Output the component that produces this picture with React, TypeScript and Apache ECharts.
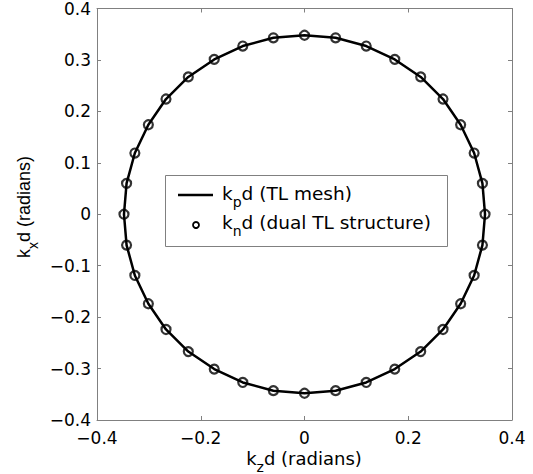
import React, { useEffect, useRef } from "react";
import * as echarts from "echarts";

// k_z d values of the dual TL structure points (radians)
const kzValues = [0.348, 0.343, 0.327, 0.301, 0.267, 0.224, 0.174, 0.119, 0.060, 0.000,
  -0.060, -0.119, -0.174, -0.224, -0.267, -0.301, -0.327, -0.343, -0.348, -0.343,
  -0.327, -0.301, -0.267, -0.224, -0.174, -0.119, -0.060, 0.000, 0.060, 0.119,
  0.174, 0.224, 0.267, 0.301, 0.327, 0.343];
// k_x d values (radians)
const kxValues = [0.000, 0.060, 0.119, 0.174, 0.224, 0.267, 0.301, 0.327, 0.343, 0.348,
  0.343, 0.327, 0.301, 0.267, 0.224, 0.174, 0.119, 0.060, 0.000, -0.060,
  -0.119, -0.174, -0.224, -0.267, -0.301, -0.327, -0.343, -0.348, -0.343, -0.327,
  -0.301, -0.267, -0.224, -0.174, -0.119, -0.060];

const xTicks = { min: -0.4, max: 0.4, interval: 0.2 };
const yTicks = { min: -0.4, max: 0.4, interval: 0.1 };

const FONT = "DejaVu Sans";
const FONT_V = "Liberation Sans";
const GRAY = "#808080";

const fmt = (v: number) => (Math.abs(v) < 1e-9 ? "0" : v.toFixed(1).replace("-", "\u2212"));

// main text with a lowered subscript, compact line box
const mkRich = (font: string, size: number, subSize: number) => ({
  a: { fontSize: size, fontFamily: font, color: "#000", lineHeight: 14 },
  s: { fontSize: subSize, fontFamily: font, color: "#000", lineHeight: 4, padding: [18, 0, 0, 0] },
});

export default function App() {
  const ref = useRef<HTMLDivElement>(null);
  useEffect(() => {
    if (!ref.current) return;
    const chart = echarts.init(ref.current, null, { renderer: "svg" });
    const pts = kzValues.map((x, i) => [x, kxValues[i]]);
    const linePts = [...pts, pts[0]];
    const axisCommon = {
      type: "value" as const,
      axisLine: { show: true, onZero: false, lineStyle: { color: GRAY, width: 1 } },
      axisTick: { show: true, inside: true, length: 4, lineStyle: { color: GRAY, width: 1 } },
      splitLine: { show: false },
    };
    const labelStyle = { color: "#000", fontSize: 17, fontFamily: FONT, lineHeight: 15, formatter: fmt, showMinLabel: true, showMaxLabel: true };
    chart.setOption({
      animation: false,
      backgroundColor: "#fff",
      grid: { left: 97, right: 21, top: 7, bottom: 54, containLabel: false },
      xAxis: [
        { ...axisCommon, ...xTicks, position: "bottom", axisLabel: { ...labelStyle, margin: 10 } },
        { ...axisCommon, ...xTicks, position: "top", axisLabel: { show: false } },
      ],
      yAxis: [
        { ...axisCommon, ...yTicks, position: "left", axisLabel: { ...labelStyle, margin: 6 } },
        { ...axisCommon, ...yTicks, position: "right", axisLabel: { show: false } },
      ],
      series: [
        {
          type: "line",
          name: "kpd (TL mesh)",
          data: linePts,
          symbol: "none",
          lineStyle: { color: "#000", width: 2.5 },
        },
        {
          type: "scatter",
          name: "knd (dual TL structure)",
          data: pts,
          symbol: "circle",
          symbolSize: 9,
          itemStyle: { color: "rgba(0,0,0,0)", borderColor: "#000", borderWidth: 2.2 },
        },
      ],
      graphic: [
        {
          type: "text",
          x: 304,
          y: 458,
          style: { text: "{a|k}{s|z}{a|d (radians)}", rich: mkRich(FONT, 18, 14), align: "center", verticalAlign: "middle" },
        },
        {
          type: "text",
          x: 24,
          y: 207,
          rotation: Math.PI / 2,
          style: { text: "{a|k}{s|x}{a|d (radians)}", rich: mkRich(FONT_V, 18, 14), align: "center", verticalAlign: "middle" },
        },
        {
          type: "rect",
          left: 165,
          top: 175,
          shape: { width: 282, height: 71 },
          style: { fill: "#fff", stroke: GRAY, lineWidth: 1 },
          z: 10,
        },
        {
          type: "line",
          shape: { x1: 178, y1: 195, x2: 213, y2: 195 },
          style: { stroke: "#000", lineWidth: 2.5 },
          z: 11,
        },
        {
          type: "circle",
          shape: { cx: 196, cy: 225, r: 3 },
          style: { fill: "none", stroke: "#000", lineWidth: 1.8 },
          z: 11,
        },
        {
          type: "text",
          x: 222,
          y: 193,
          style: { text: "{a|k}{s|p}{a|d (TL mesh)}", rich: mkRich(FONT, 18.5, 14), verticalAlign: "middle" },
          z: 11,
        },
        {
          type: "text",
          x: 222,
          y: 222,
          style: { text: "{a|k}{s|n}{a|d (dual TL structure)}", rich: mkRich(FONT, 18.5, 14), verticalAlign: "middle" },
          z: 11,
        },
      ],
    });
    return () => chart.dispose();
  }, []);
  return <div ref={ref} style={{ position: "fixed", left: 0, top: 0, width: 533, height: 474 }} />;
}
